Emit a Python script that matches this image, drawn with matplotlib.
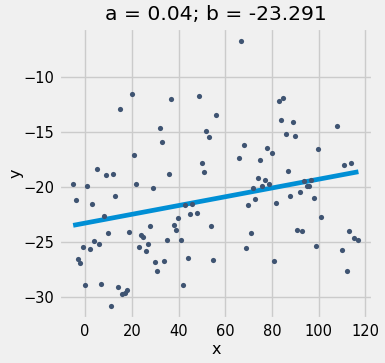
import matplotlib
matplotlib.use('Agg')
import matplotlib.pyplot as plt
import numpy as np

# points
xs = [-5.1, -3.9, -3.0, -2.1, -0.9, 0.0, 0.9, 2.1, 3.0, 3.9,
      5.1, 6.0, 6.9, 8.1, 9.0, 9.9, 11.1, 12.0, 12.9, 14.1,
      15.0, 15.9, 17.1, 18.0, 18.9, 20.1, 21.0, 21.9, 23.1, 24.0,
      24.9, 26.1, 27.0, 27.9, 29.1, 30.0, 30.9, 32.1, 33.0, 33.9,
      35.1, 36.0, 36.9, 38.1, 39.0, 39.9, 41.1, 42.0, 42.9, 44.1,
      45.0, 45.9, 48.0, 48.9, 50.1, 51.0, 51.9, 53.1, 54.0, 54.9,
      56.1, 66.0, 66.9, 68.1, 69.0, 69.9, 71.1, 72.0, 72.9, 74.1,
      75.0, 75.9, 77.1, 78.0, 78.9, 80.1, 81.0, 81.9, 83.1, 84.0,
      84.9, 86.1, 87.0, 87.9, 89.1, 90.0, 90.9, 92.1, 93.0, 93.9,
      95.1, 96.0, 96.9, 98.1, 99.0, 99.9, 101.1, 108.0, 110.1, 111.0,
      111.9, 113.1, 114.0, 114.9, 117.0]
ys = [-19.75, -21.2, -26.58, -26.94, -25.48, -28.94, -19.93, -25.66, -21.57, -24.94,
      -18.38, -25.21, -28.85, -22.66, -18.93, -24.21, -30.86, -18.83, -20.84, -29.13,
      -12.91, -29.76, -29.67, -29.4, -24.12, -11.55, -17.10, -19.75, -25.48, -24.39,
      -24.57, -25.85, -25.21, -23.57, -20.11, -26.85, -27.67, -14.64, -15.92, -26.76,
      -24.85, -18.83, -12.0, -23.48, -23.93, -22.84, -24.85, -28.94, -21.66, -26.48,
      -22.48, -21.57, -22.39, -11.73, -17.83, -18.65, -14.92, -15.46, -23.57, -26.67,
      -13.46, -17.35, -6.72, -16.19, -25.57, -21.66, -24.21, -20.11, -21.11, -19.2,
      -17.56, -19.93, -19.35, -16.47, -19.75, -16.92, -26.76, -21.48, -12.19, -13.92,
      -11.91, -15.19, -18.56, -20.84, -14.10, -15.37, -23.93, -20.47, -24.03, -19.47,
      -19.93, -19.93, -19.38, -21.02, -25.39, -16.56, -22.75, -14.46, -25.76, -18.01,
      -27.67, -24.03, -17.83, -24.66, -24.85]

a = 0.04
b = -23.291

plt.style.use('fivethirtyeight')
fig = plt.figure(figsize=(3.85, 3.63), dpi=100)
fig.patch.set_facecolor('#f0f0f0')
ax = fig.add_axes([0.153, 0.12, 0.815, 0.803])

line_x = np.array([min(xs), max(xs)])
ax.plot(line_x, a * line_x + b, color='#008fd5', linewidth=3.4, zorder=2)
ax.scatter(xs, ys, s=14, color='#3f5472', linewidths=0, zorder=3)

ax.set_title(f'a = {a}; b = {b}', fontsize=14.6, pad=6)
ax.set_xlabel('x', fontsize=11.5, labelpad=2)
ax.set_ylabel('y', fontsize=11.5, labelpad=0)
ax.set_xticks([0, 20, 40, 60, 80, 100, 120])
ax.set_yticks([-30, -25, -20, -15, -10])
ax.tick_params(labelsize=10.5)
ax.grid(True, color='#cbcbcb', linewidth=1.0)

fig.savefig('out.png', dpi=100, facecolor=fig.get_facecolor())
